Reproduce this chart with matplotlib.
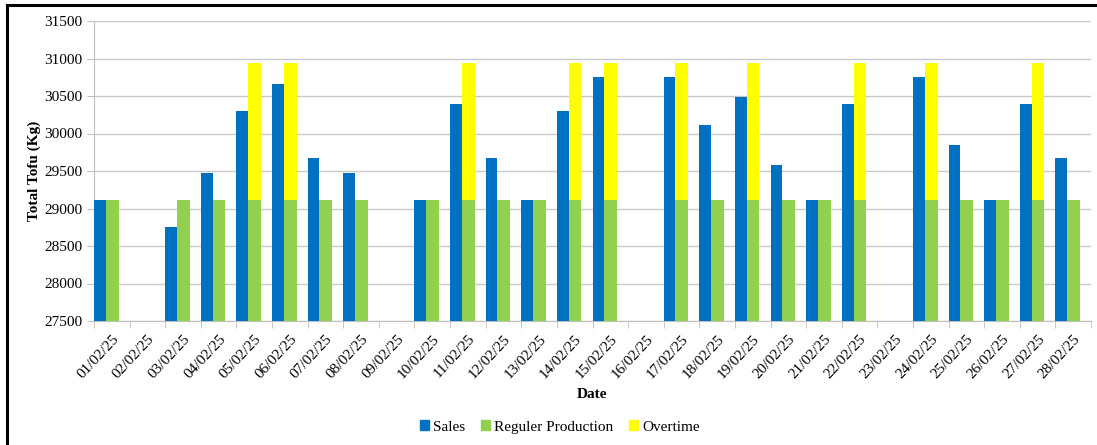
import numpy as np
import matplotlib
matplotlib.use('Agg')
import matplotlib.pyplot as plt
from matplotlib.lines import Line2D
from matplotlib.patches import Patch

plt.rcParams['font.family'] = ['Liberation Serif', 'DejaVu Serif']

dates = ['01/02/25', '02/02/25', '03/02/25', '04/02/25', '05/02/25', '06/02/25', '07/02/25',
         '08/02/25', '09/02/25', '10/02/25', '11/02/25', '12/02/25', '13/02/25', '14/02/25',
         '15/02/25', '16/02/25', '17/02/25', '18/02/25', '19/02/25', '20/02/25', '21/02/25',
         '22/02/25', '23/02/25', '24/02/25', '25/02/25', '26/02/25', '27/02/25', '28/02/25']

sales = [29115, 0, 28750, 29480, 30300, 30665, 29670,
         29480, 0, 29115, 30395, 29670, 29115, 30300,
         30760, 0, 30760, 30120, 30485, 29575, 29115,
         30395, 0, 30760, 29850, 29115, 30395, 29670]

regular = [29115, 0, 29115, 29115, 29115, 29115, 29115,
           29115, 0, 29115, 29115, 29115, 29115, 29115,
           29115, 0, 29115, 29115, 29115, 29115, 29115,
           29115, 0, 29115, 29115, 29115, 29115, 29115]

overtime = [0, 0, 0, 0, 1830, 1830, 0,
            0, 0, 0, 1830, 0, 0, 1830,
            1830, 0, 1830, 0, 1830, 0, 0,
            1830, 0, 1830, 0, 0, 1830, 0]

c_sales = '#0070C0'
c_reg = '#92D050'
c_ot = '#FFFF00'

fig = plt.figure(figsize=(10.97, 4.45), dpi=100)
ax = fig.add_axes([94 / 1097, 1 - 321 / 445, (1091 - 94) / 1097, 300 / 445])

x = np.arange(len(dates))
w = 0.33
# clusters sit from the left category boundary like in the original
ax.bar(x - 0.5, sales, width=w, align='edge', color=c_sales, zorder=3)
ax.bar(x - 0.5 + w, regular, width=0.36, align='edge', color=c_reg, zorder=3)
ot = np.array(overtime)
ax.bar(x - 0.5 + w, np.where(ot > 0, ot, np.nan), width=0.36, align='edge',
       bottom=regular, color=c_ot, zorder=3)

ax.set_xlim(-0.5, len(dates) - 0.5)
ax.set_ylim(27500, 31500)
ax.set_yticks(np.arange(27500, 31501, 500))
ax.yaxis.grid(True, color='#c8c8c8', linewidth=1, zorder=0)

ax.set_xticks(x)
ax.set_xticklabels(dates, rotation=47, ha='right', rotation_mode='anchor', fontsize=11)
ax.set_xticks(np.arange(-0.5, len(dates), 1), minor=True)
ax.tick_params(axis='x', which='major', length=0, pad=8)
ax.tick_params(axis='x', which='minor', length=5, color='#bfbfbf')
ax.tick_params(axis='y', length=5, color='#bfbfbf', labelsize=11)

for s in ['top', 'right']:
    ax.spines[s].set_visible(False)
ax.spines['left'].set_color('#bfbfbf')
ax.spines['bottom'].set_color('#bfbfbf')

ax.set_ylabel('Total Tofu (Kg)', fontweight='bold', fontsize=11, labelpad=2)
ax.set_xlabel('Date', fontweight='bold', fontsize=11, labelpad=5)

handles = [Patch(color=c_sales, label='Sales'),
           Patch(color=c_reg, label='Reguler Production'),
           Patch(color=c_ot, label='Overtime')]
fig.legend(handles=handles, loc='center', bbox_to_anchor=(560 / 1097, 1 - 427 / 445),
           ncol=3, frameon=False, fontsize=11, handlelength=0.6, handleheight=0.6,
           handletextpad=0.3, columnspacing=1.0)

# partial outer frame (top and left edges visible)
fig.add_artist(Line2D([7 / 1097, 1], [1 - 5 / 445, 1 - 5 / 445], color='black', linewidth=2.2,
                      transform=fig.transFigure))
fig.add_artist(Line2D([7 / 1097, 7 / 1097], [0, 1 - 5 / 445], color='black', linewidth=2.2,
                      transform=fig.transFigure))

fig.savefig('out.png', dpi=100)
